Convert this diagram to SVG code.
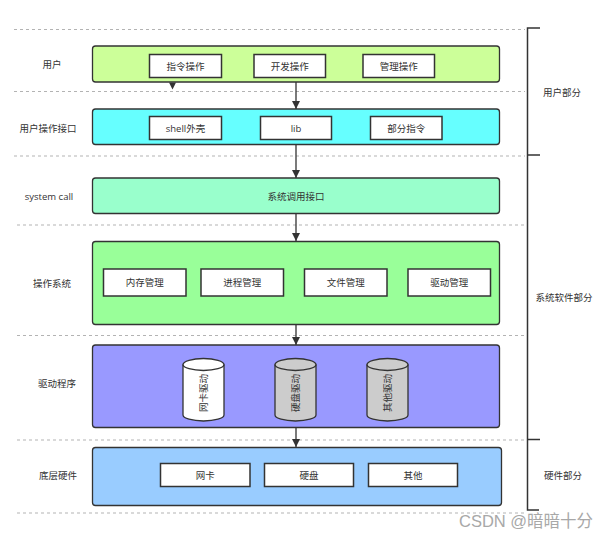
<svg xmlns="http://www.w3.org/2000/svg" width="611" height="539" viewBox="0 0 611 539">
<style>
  text { font-family: "Open Sans", "Noto Sans CJK SC", sans-serif; font-size: 9.5px; fill: #333; text-anchor: middle; dominant-baseline: central; }
  .layer { stroke: #333; stroke-width: 1.3; }
  .item { fill: #fff; stroke: #333; stroke-width: 1.5; }
  .dash { stroke: #b3b3b3; stroke-width: 1; stroke-dasharray: 3 3; fill: none; }
  .conn { stroke: #333; stroke-width: 1.3; fill: none; }
  .bracket { stroke: #333; stroke-width: 1.5; fill: none; }
  .cyl { stroke: #333; stroke-width: 1.3; }
  .wm { font-family: "Liberation Sans", "Noto Sans CJK SC", sans-serif; font-size: 16.5px; fill: #a8a8a8; text-anchor: start; dominant-baseline: alphabetic; }
</style>
<defs>
  <marker id="arr" viewBox="0 0 10 10" refX="10" refY="5" markerWidth="8" markerHeight="8" markerUnits="userSpaceOnUse" orient="auto">
    <path d="M0,0 L10,5 L0,10 z" fill="#333"/>
  </marker>
</defs>
<rect width="611" height="539" fill="#fff"/>

<g id="separators">
  <line class="dash" x1="14" y1="29.5" x2="525" y2="29.5"/>
  <line class="dash" x1="14" y1="91.5" x2="525" y2="91.5"/>
  <line class="dash" x1="14" y1="156" x2="525" y2="156"/>
  <line class="dash" x1="17" y1="225" x2="525" y2="225"/>
  <line class="dash" x1="17" y1="335.5" x2="525" y2="335.5"/>
  <line class="dash" x1="17" y1="440" x2="525" y2="440"/>
  <line class="dash" x1="17" y1="513" x2="525" y2="513"/>
</g>

<g id="row-labels">
  <text x="52" y="64">用户</text>
  <text x="48" y="128">用户操作接口</text>
  <text x="49" y="196">system call</text>
  <text x="52" y="283">操作系统</text>
  <text x="57" y="383">驱动程序</text>
  <text x="58" y="475">底层硬件</text>
</g>

<g id="bracket">
  <path class="bracket" d="M540,28 H527.5 V510 H539"/>
  <line class="bracket" x1="527.5" y1="155" x2="540" y2="155"/>
  <line class="bracket" x1="527.5" y1="439.5" x2="540" y2="439.5"/>
  <text x="562" y="92">用户部分</text>
  <text x="564" y="297">系统软件部分</text>
  <text x="563" y="475">硬件部分</text>
</g>

<g id="connectors">
  <line class="conn" x1="296" y1="82" x2="296" y2="109" marker-end="url(#arr)"/>
  <line class="conn" x1="296" y1="145" x2="296" y2="178" marker-end="url(#arr)"/>
  <line class="conn" x1="296" y1="213" x2="296" y2="241" marker-end="url(#arr)"/>
  <line class="conn" x1="296" y1="324" x2="296" y2="345" marker-end="url(#arr)"/>
  <line class="conn" x1="296" y1="427" x2="296" y2="447" marker-end="url(#arr)"/>
  <path d="M169,82.5 L176,82.5 L172.5,89.5 z" fill="#333"/>
</g>

<g id="user">
  <rect class="layer" x="92.5" y="46" width="407" height="36" rx="3" fill="#ccff99"/>
  <g id="cmd-op"><rect class="item" x="149.5" y="54.5" width="72" height="23"/><text x="185.5" y="66">指令操作</text></g>
  <g id="dev-op"><rect class="item" x="254" y="54.5" width="71.5" height="23"/><text x="289.75" y="66">开发操作</text></g>
  <g id="mgmt-op"><rect class="item" x="363" y="54.5" width="71.5" height="23"/><text x="398.75" y="66">管理操作</text></g>
</g>

<g id="user-interface">
  <rect class="layer" x="92.5" y="109" width="407" height="35.5" rx="3" fill="#66ffff"/>
  <g id="shell"><rect class="item" x="149.5" y="116.5" width="72" height="23"/><text x="185.5" y="128">shell外壳</text></g>
  <g id="lib"><rect class="item" x="260.5" y="116.5" width="71" height="23"/><text x="296" y="128">lib</text></g>
  <g id="partial-cmd"><rect class="item" x="370.5" y="116.5" width="71.5" height="23"/><text x="406.25" y="128">部分指令</text></g>
</g>

<g id="system-call">
  <rect class="layer" x="92.5" y="178" width="407" height="35.5" rx="3" fill="#99ffcc"/>
  <text x="296" y="196">系统调用接口</text>
</g>

<g id="os">
  <rect class="layer" x="92.5" y="241.5" width="407" height="83" rx="3" fill="#99ff99"/>
  <g id="mem"><rect class="item" x="103.5" y="269" width="82.5" height="27"/><text x="144.75" y="282.5">内存管理</text></g>
  <g id="proc"><rect class="item" x="201" y="269" width="82.5" height="27"/><text x="242.25" y="282.5">进程管理</text></g>
  <g id="file"><rect class="item" x="304.5" y="269" width="82.5" height="27"/><text x="345.75" y="282.5">文件管理</text></g>
  <g id="drvmgmt"><rect class="item" x="408" y="269" width="82.5" height="27"/><text x="449.25" y="282.5">驱动管理</text></g>
</g>

<g id="drivers">
  <rect class="layer" x="92.5" y="345" width="407" height="82.5" rx="3" fill="#9999ff"/>
  <g id="nic-drv">
    <path class="cyl" d="M183,364.5 A20.5,6 0 0 1 224,364.5 V415 A20.5,6 0 0 1 183,415 Z" fill="#fff"/>
    <path class="cyl" d="M183,364.5 A20.5,6 0 0 0 224,364.5" fill="none"/>
    <text transform="translate(203.5,393) rotate(-90)">网卡驱动</text>
  </g>
  <g id="disk-drv">
    <path class="cyl" d="M275,364.5 A20.5,6 0 0 1 316,364.5 V415 A20.5,6 0 0 1 275,415 Z" fill="#cccccc"/>
    <path class="cyl" d="M275,364.5 A20.5,6 0 0 0 316,364.5" fill="none"/>
    <text transform="translate(295.5,393) rotate(-90)">硬盘驱动</text>
  </g>
  <g id="other-drv">
    <path class="cyl" d="M367,364.5 A20.5,6 0 0 1 408,364.5 V415 A20.5,6 0 0 1 367,415 Z" fill="#cccccc"/>
    <path class="cyl" d="M367,364.5 A20.5,6 0 0 0 408,364.5" fill="none"/>
    <text transform="translate(387.5,393) rotate(-90)">其他驱动</text>
  </g>
</g>

<g id="hardware">
  <rect class="layer" x="92.5" y="447.5" width="409" height="58" rx="3" fill="#99ccff"/>
  <g id="nic"><rect class="item" x="160.5" y="463.5" width="89.5" height="23"/><text x="205.25" y="475">网卡</text></g>
  <g id="disk"><rect class="item" x="264.5" y="463.5" width="89" height="23"/><text x="309" y="475">硬盘</text></g>
  <g id="other"><rect class="item" x="368.5" y="463.5" width="89" height="23"/><text x="413" y="475">其他</text></g>
</g>

<text class="wm" x="459" y="527">CSDN @暗暗十分</text>
</svg>
